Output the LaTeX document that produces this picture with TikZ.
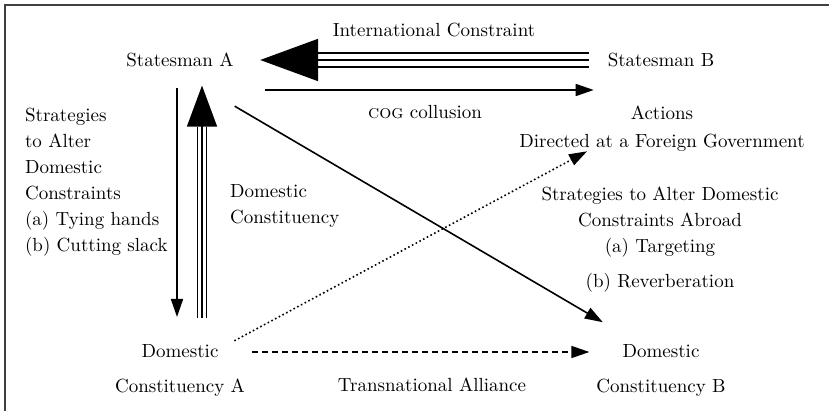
\documentclass[tikz,border=0pt]{standalone}
\usetikzlibrary{arrows.meta}

\begin{document}
\begin{tikzpicture}
    [
        x=0.5pt, y=-0.5pt,
        txt/.style = {
                font=\fontsize{9.5}{13}\selectfont,
                align=center
            },
        link/.style = {
                line width=0.8pt,
                -{Triangle[length=9pt, width=6pt]}
            },
        tripleline/.style = {
                line width=1pt,
                double distance=6pt
            },
        frame/.style = {
                line width=1pt,
                draw=black!75
            },
    ]

    \useasboundingbox (0,0) rectangle (829,411);
    \draw [frame] (5,411) -- (5,5) -- (829,5);

    \node [txt] (sA) at (180,60) {Statesman A};
    \node [txt] (sB) at (661,60) {Statesman B};
    \node [txt] (intl) at (434,30) {International Constraint};
    \node [txt] (cog) at (425,112) {\textsc{cog} collusion};
    \node [txt] (act) at (662,128.5) {Actions\\[1pt]Directed at a Foreign Government};
    \node [txt, align=left, anchor=west] (strat) at (18,182)
        {Strategies\\to Alter\\Domestic\\Constraints\\(a) Tying hands\\(b) Cutting slack};
    \node [txt, align=left, anchor=west] (dc) at (223,205.5) {Domestic\\Constituency};
    \node [txt] (abroad) at (660,239.5)
        {Strategies to Alter Domestic\\Constraints Abroad\\(a) Targeting\\[4.5pt](b) Reverberation};
    \node [txt] (dA) at (180,370) {Domestic\\[4.5pt]Constituency A};
    \node [txt] (dB) at (661,370) {Domestic\\[4.5pt]Constituency B};
    \node [txt] (trans) at (432,385) {Transnational Alliance};

    \draw [tripleline, shorten <=6pt, shorten >=38.75pt] (sB) -- (sA);
    \draw [line width=1pt, shorten <=6pt, shorten >=9.75pt, -{Triangle[length=29pt, width=21pt]}] (sB) -- (sA);
    \draw [link, shorten <=12pt, shorten >=3.5pt] ([yshift=-15pt]sA.east) -- ([yshift=-15pt]sB.west);

    \draw [link, shorten <=7pt, shorten >=10pt] ([xshift=-1.5pt]sA.south) -- ([xshift=-1.5pt]dA.north);
    \draw [tripleline, line width=0.7pt, double distance=3.6pt, shorten <=9.5pt, shorten >=26.25pt] ([xshift=11pt]dA.north) -- ([xshift=11pt]sA.south);
    \draw [line width=0.7pt, shorten <=9.5pt, shorten >=5.75pt, -{Triangle[length=20.5pt, width=15pt]}] ([xshift=11pt]dA.north) -- ([xshift=11pt]sA.south);

    \draw [link, shorten <=31.7pt, shorten >=14.6pt] (sA.south) -- ([xshift=-16.5pt]dB.north);
    \draw [link, dash pattern=on 0.8pt off 1.3pt, shorten <=-4pt] (dA) -- ([xshift=-37.5pt, yshift=3.5pt]act.south);
    \draw [link, dash pattern=on 3pt off 2pt] ([yshift=9pt]dA.east) -- ([yshift=9pt]dB.west);

\end{tikzpicture}
\end{document}
